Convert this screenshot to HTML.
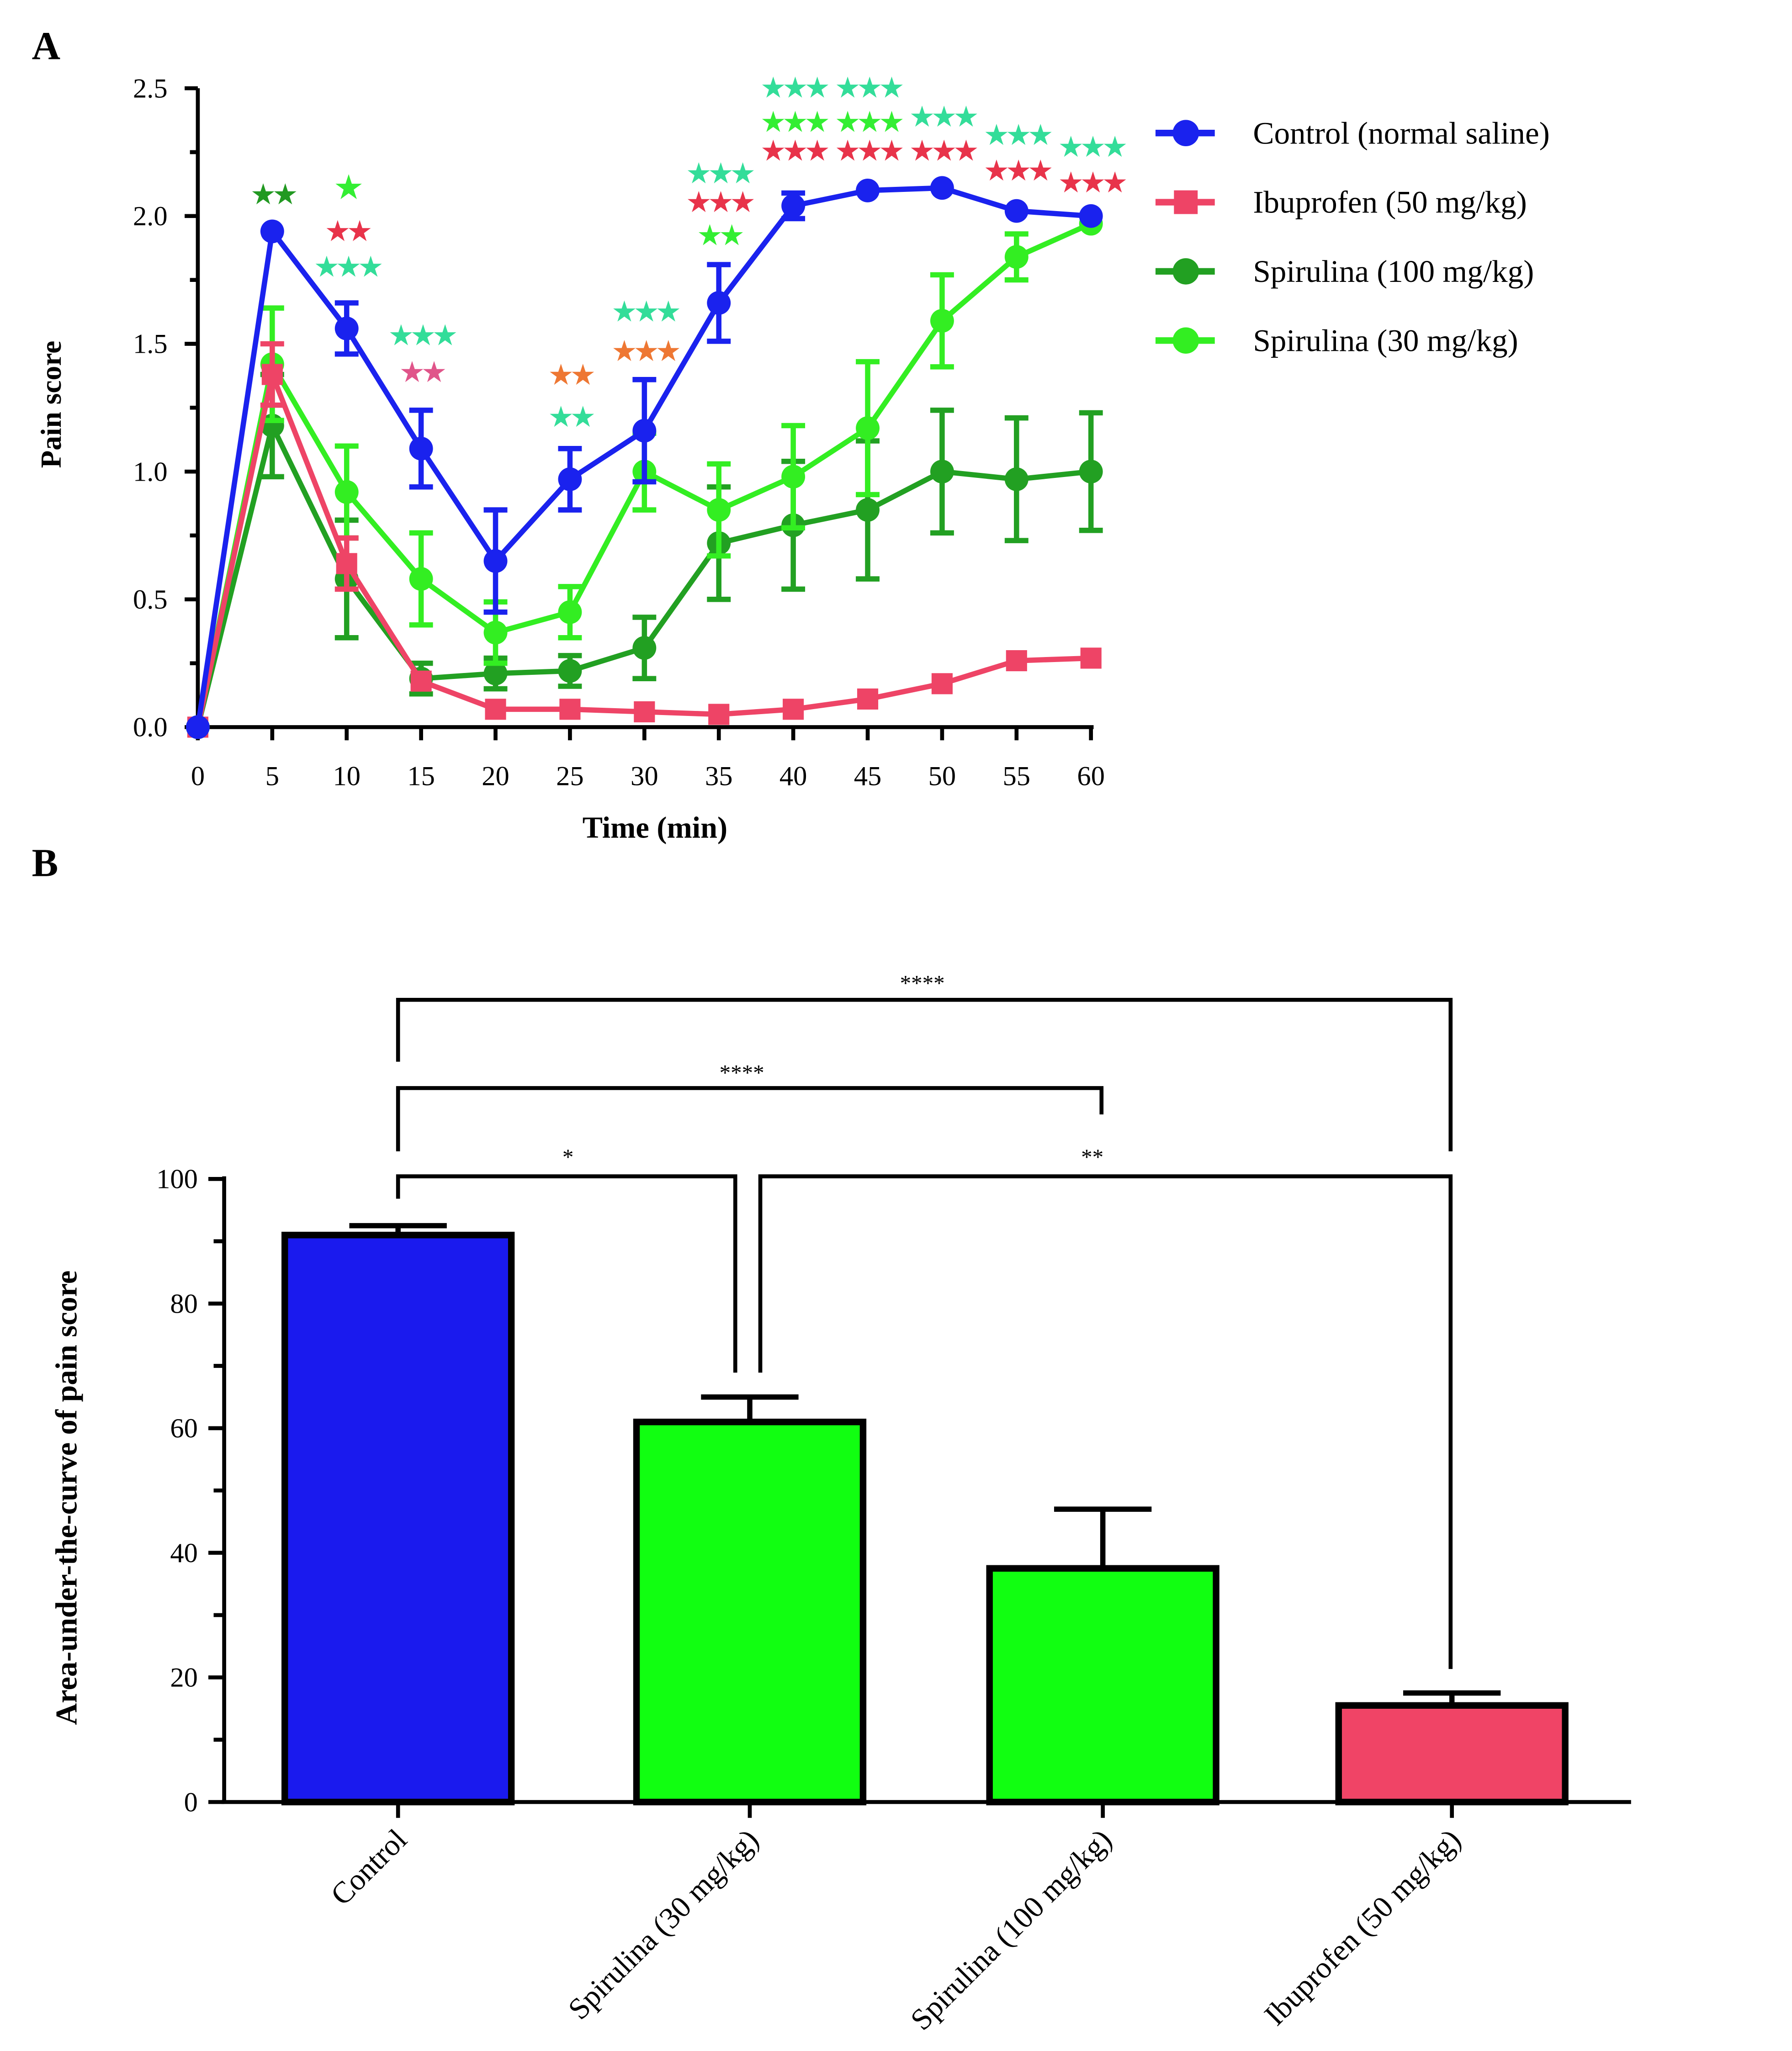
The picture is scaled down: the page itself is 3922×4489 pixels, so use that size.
<!DOCTYPE html>
<html><head><meta charset="utf-8"><style>
html,body{margin:0;padding:0;background:#fff}
svg{display:block;font-family:"Liberation Serif",serif}
</style></head><body>
<svg id="s" width="3922" height="4489" viewBox="0 0 1360 1557" xmlns="http://www.w3.org/2000/svg">
<text x="24" y="45" font-size="30" font-weight="bold">A</text>
<text x="24" y="665" font-size="30" font-weight="bold">B</text>
<g id="ga"></g>
<g id="gb"></g>
</svg>
<script>
const times=[0,5,10,15,20,25,30,35,40,45,50,55,60];
const controlVals=[0,1.94,1.56,1.09,0.65,0.97,1.16,1.66,2.04,2.10,2.11,2.02,2.00];
const controlErr=[0,0,0.1,0.15,0.2,0.12,0.2,0.15,0.05,0,0,0,0];
const ibuVals=[0,1.38,0.64,0.18,0.07,0.07,0.06,0.05,0.07,0.11,0.17,0.26,0.27];
const ibuErr=[0,0.12,0.1,0.02,0,0,0,0,0,0,0,0,0];
const sp100Vals=[0,1.18,0.58,0.19,0.21,0.22,0.31,0.72,0.79,0.85,1.00,0.97,1.00];
const sp100Err=[0,0.2,0.23,0.06,0.06,0.06,0.12,0.22,0.25,0.27,0.24,0.24,0.23];
const sp30Vals=[0,1.42,0.92,0.58,0.37,0.45,1.0,0.85,0.98,1.17,1.59,1.84,1.97];
const sp30Err=[0,0.22,0.18,0.18,0.12,0.1,0.15,0.18,0.2,0.26,0.18,0.09,0.02];
const yTicksA=[0,0.5,1.0,1.5,2.0,2.5];
const yTickLabelsA=["0.0","0.5","1.0","1.5","2.0","2.5"];
const barCats=["Control","Spirulina (30 mg/kg)","Spirulina (100 mg/kg)","Ibuprofen (50 mg/kg)"];
const barVals=[91,61,37.5,15.5];
const barErr=[1.5,4,9.5,2];
const yTicksB=[0,20,40,60,80,100];

const NS="http://www.w3.org/2000/svg";
function el(p,t,a,txt){const e=document.createElementNS(NS,t);for(const k in a)e.setAttribute(k,a[k]);if(txt!==undefined)e.textContent=txt;p.appendChild(e);return e;}
const ga=document.getElementById('ga'),gb=document.getElementById('gb');
const xA=t=>150+t*(678/60), yA=v=>552-v*194;

let e=el(ga,'line',{x1:150,y1:67,x2:150,y2:552,stroke:'#000','stroke-width':3});

e=el(ga,'line',{x1:150,y1:552,x2:830,y2:552,stroke:'#000','stroke-width':3});

yTicksA.forEach((v,i)=>{
  el(ga,'line',{x1:140,y1:yA(v),x2:150,y2:yA(v),stroke:'#000','stroke-width':3});
  if(i<yTicksA.length-1) el(ga,'line',{x1:144,y1:yA(v+0.25),x2:150,y2:yA(v+0.25),stroke:'#000','stroke-width':3});
  e=el(ga,'text',{x:127,y:yA(v)+7,'font-size':21,'text-anchor':'end'},yTickLabelsA[i]);
  
});
times.forEach(t=>{
  el(ga,'line',{x1:xA(t),y1:552,x2:xA(t),y2:562,stroke:'#000','stroke-width':3});
  e=el(ga,'text',{x:xA(t),y:596,'font-size':21,'text-anchor':'middle'},String(t));
  
});
e=el(ga,'text',{x:497,y:636,'font-size':23,'font-weight':'bold','text-anchor':'middle'},'Time (min)');

e=el(ga,'text',{x:46,y:307,'font-size':22,'font-weight':'bold','text-anchor':'middle',transform:'rotate(-90 46 307)'},'Pain score');


const series=[
 {name:'spirulina-100',vals:sp100Vals,err:sp100Err,c:'#22a022',m:'circle'},
 {name:'spirulina-30',vals:sp30Vals,err:sp30Err,c:'#33ee22',m:'circle'},
 {name:'ibuprofen',vals:ibuVals,err:ibuErr,c:'#ee4466',m:'square'},
 {name:'control',vals:controlVals,err:controlErr,c:'#1a22ee',m:'circle'}];
series.forEach(s=>{
  const g=el(ga,'g',{});
  
  s.vals.forEach((v,i)=>{
    if(s.err[i]>0.03){const x=xA(times[i]);
      el(g,'line',{x1:x,y1:yA(v+s.err[i]),x2:x,y2:yA(v-s.err[i]),stroke:s.c,'stroke-width':4});
      el(g,'line',{x1:x-9,y1:yA(v+s.err[i]),x2:x+9,y2:yA(v+s.err[i]),stroke:s.c,'stroke-width':4});
      el(g,'line',{x1:x-9,y1:yA(v-s.err[i]),x2:x+9,y2:yA(v-s.err[i]),stroke:s.c,'stroke-width':4});}
  });
  el(g,'polyline',{points:s.vals.map((v,i)=>xA(times[i])+','+yA(v)).join(' '),fill:'none',stroke:s.c,'stroke-width':4});
  s.vals.forEach((v,i)=>{
    let p;
    if(s.m==='square') p=el(g,'rect',{x:xA(times[i])-8,y:yA(v)-8,width:16,height:16,fill:s.c});
    else p=el(g,'circle',{cx:xA(times[i]),cy:yA(v),r:9,fill:s.c});
    
  });
});
const TEAL='#33dd99',GRN='#33ee33',RED='#e8334a',DG='#229922',PINK='#e0558a',OR='#ee7733';
const stars=[[5,147,'★★',DG],[10,143,'★',GRN],[10,175,'★★',RED],[10,202,'★★★',TEAL],
[15,254,'★★★',TEAL],[15,282,'★★',PINK],[25,284,'★★',OR],[25,316,'★★',TEAL],
[30,236,'★★★',TEAL],[30,266,'★★★',OR],[35,131,'★★★',TEAL],[35,153,'★★★',RED],[35,178,'★★',GRN],
[40,66,'★★★',TEAL],[40,92,'★★★',GRN],[40,114,'★★★',RED],[45,66,'★★★',TEAL],[45,92,'★★★',GRN],[45,114,'★★★',RED],
[50,88,'★★★',TEAL],[50,114,'★★★',RED],[55,102,'★★★',TEAL],[55,129,'★★★',RED],[60,111,'★★★',TEAL],[60,138,'★★★',RED]];
stars.forEach(s=>{e=el(ga,'text',{x:xA(s[0]),y:s[1]+8,'font-size':s[2].length===1?26:22,'text-anchor':'middle',fill:s[3],'font-family':'DejaVu Sans',style:'letter-spacing:-3px'},s[2]);
});
const leg=[['Control (normal saline)','#1a22ee','circle'],['Ibuprofen (50 mg/kg)','#ee4466','square'],['Spirulina (100 mg/kg)','#22a022','circle'],['Spirulina (30 mg/kg)','#33ee22','circle']];
leg.forEach((l,i)=>{const y=101+i*52.5;const g=el(ga,'g',{});
  
  el(g,'line',{x1:877,y1:y,x2:922,y2:y,stroke:l[1],'stroke-width':5});
  if(l[2]==='square')el(g,'rect',{x:891,y:y-9,width:18,height:18,fill:l[1]});else el(g,'circle',{cx:900,cy:y,r:10,fill:l[1]});
  el(g,'text',{x:951,y:y+8,'font-size':24},l[0]);});

const yB=v=>1368-v*4.73;
const barX=[216,483,751,1016],barW=172,bc=['#1a1aee','#11ff11','#11ff11','#f04466'];
e=el(gb,'line',{x1:170,y1:893,x2:170,y2:1369,stroke:'#000','stroke-width':3});

e=el(gb,'line',{x1:168,y1:1368,x2:1238,y2:1368,stroke:'#000','stroke-width':3});

yTicksB.forEach((v,i)=>{el(gb,'line',{x1:158,y1:yB(v),x2:170,y2:yB(v),stroke:'#000','stroke-width':3});
  if(i<yTicksB.length-1)el(gb,'line',{x1:162,y1:yB(v+10),x2:170,y2:yB(v+10),stroke:'#000','stroke-width':3});
  e=el(gb,'text',{x:150,y:yB(v)+7,'font-size':21,'text-anchor':'end'},String(v));
  });
e=el(gb,'text',{x:58,y:1137,'font-size':23,'font-weight':'bold','text-anchor':'middle',transform:'rotate(-90 58 1137)'},'Area-under-the-curve of pain score');

barVals.forEach((v,i)=>{const cx=barX[i]+barW/2;
  el(gb,'line',{x1:cx,y1:yB(v),x2:cx,y2:yB(v+barErr[i]),stroke:'#000','stroke-width':4});
  el(gb,'line',{x1:cx-37,y1:yB(v+barErr[i]),x2:cx+37,y2:yB(v+barErr[i]),stroke:'#000','stroke-width':4});
  e=el(gb,'rect',{x:barX[i],y:yB(v),width:barW,height:1368-yB(v),fill:bc[i],stroke:'#000','stroke-width':5});
  
  el(gb,'line',{x1:cx,y1:1368,x2:cx,y2:1380,stroke:'#000','stroke-width':3});
  e=el(gb,'text',{x:cx+8,y:1398,'font-size':23,'text-anchor':'end',transform:`rotate(-45 ${cx+8} 1398)`},barCats[i]);
  });
const br=el(gb,'g',{fill:'none',stroke:'#000','stroke-width':3});

el(br,'path',{d:'M302 806 V759 H1101 V874'});
el(br,'path',{d:'M302 874 V826 H836 V846'});
el(br,'path',{d:'M302 910 V893 H558 V1042'});
el(br,'path',{d:'M577 1042 V893 H1101 V1267'});
[[700,752,'****'],[563,820,'****'],[431,884,'*'],[829,884,'**']].forEach(s=>{
  e=el(gb,'text',{x:s[0],y:s[1],'font-size':17,'text-anchor':'middle'},s[2]);
  });
</script>
</body></html>
